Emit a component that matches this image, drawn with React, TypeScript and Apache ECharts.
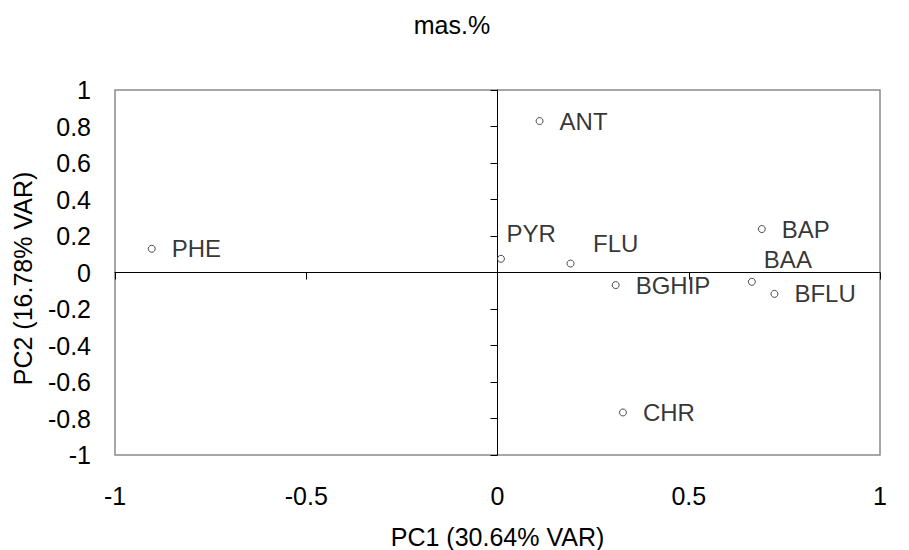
import React, { useEffect, useRef } from "react";
import * as echarts from "echarts";

// PCA loadings of the PAH compounds (mass %)
const compounds = ["PHE", "PYR", "ANT", "FLU", "BGHIP", "BAP", "BAA", "BFLU", "CHR"];
const pc1 = [-0.904, 0.009, 0.11, 0.191, 0.309, 0.691, 0.665, 0.724, 0.328];
const pc2 = [0.13, 0.075, 0.83, 0.049, -0.069, 0.238, -0.051, -0.117, -0.767];

const titleText = "mas.%";
const xName = "PC1 (30.64% VAR)";
const yName = "PC2 (16.78% VAR)";

const FONT = "Liberation Sans, Arial, sans-serif";

// labels that sit above-right of their marker instead of beside it
const liftedLabels: Record<string, [number, number]> = {
  PYR: [9.5, -21.5],
  FLU: [26.5, -16.5],
  BAA: [16, -18.5],
};

export default function App() {
  const ref = useRef<HTMLDivElement>(null);

  useEffect(() => {
    if (!ref.current) return;
    const chart = echarts.init(ref.current, undefined, { renderer: "svg" });

    const data = compounds.map((name, i) => {
      const lifted = liftedLabels[name];
      return {
        name,
        value: [pc1[i], pc2[i]],
        label: lifted
          ? { position: lifted, align: "left", verticalAlign: "middle" }
          : { position: "right", distance: 16 },
      };
    });

    chart.setOption({
      animation: false,
      backgroundColor: "#ffffff",
      title: {
        text: titleText,
        left: 447,
        top: 7,
        textAlign: "center",
        textStyle: { fontFamily: FONT, fontSize: 25, fontWeight: "normal", color: "#000" },
      },
      grid: {
        left: 115,
        right: 29,
        top: 90,
        bottom: 95,
        outerBoundsMode: "none",
        containLabel: false,
        show: true,
        borderColor: "#8a8a8a",
        borderWidth: 1.5,
        backgroundColor: "transparent",
      },
      xAxis: [
        {
          type: "value",
          min: -1,
          max: 1,
          interval: 0.5,
          position: "bottom",
          name: xName,
          nameLocation: "middle",
          nameGap: 69,
          nameTextStyle: { fontFamily: FONT, fontSize: 25, color: "#000" },
          axisLine: { show: false, onZero: false },
          axisTick: { show: false },
          splitLine: { show: false },
          axisLabel: { margin: 28, fontFamily: FONT, fontSize: 25, color: "#000" },
        },
        {
          // horizontal zero line with its ticks
          type: "value",
          min: -1,
          max: 1,
          interval: 0.5,
          position: "bottom",
          axisLine: { show: true, onZero: true, lineStyle: { color: "#000", width: 1 } },
          axisTick: { show: true, length: 7, lineStyle: { color: "#000", width: 1 } },
          axisLabel: { show: false },
          splitLine: { show: false },
        },
      ],
      yAxis: [
        {
          type: "value",
          min: -1,
          max: 1,
          interval: 0.2,
          position: "left",
          name: yName,
          nameLocation: "middle",
          nameGap: 80,
          nameTextStyle: { fontFamily: FONT, fontSize: 25, color: "#000", padding: [0, 12, 0, 0] },
          axisLine: { show: false, onZero: false },
          axisTick: { show: false },
          splitLine: { show: false },
          axisLabel: { margin: 24, fontFamily: FONT, fontSize: 25, color: "#000" },
        },
        {
          // vertical zero line with its ticks
          type: "value",
          min: -1,
          max: 1,
          interval: 0.2,
          position: "left",
          axisLine: { show: true, onZero: true, lineStyle: { color: "#000", width: 1 } },
          axisTick: { show: true, length: 7, lineStyle: { color: "#000", width: 1 } },
          axisLabel: { show: false },
          splitLine: { show: false },
        },
      ],
      series: [
        {
          type: "scatter",
          xAxisIndex: 0,
          yAxisIndex: 0,
          symbol: "circle",
          symbolSize: 7,
          itemStyle: { color: "#ffffff", borderColor: "#222", borderWidth: 1 },
          label: {
            show: true,
            formatter: "{b}",
            fontFamily: FONT,
            fontSize: 24,
            color: "#000",
          },
          data,
        },
      ],
    });

    return () => chart.dispose();
  }, []);

  return (
    <div
      ref={ref}
      style={{ position: "fixed", left: 0, top: 0, width: 909, height: 550, background: "#fff" }}
    />
  );
}
